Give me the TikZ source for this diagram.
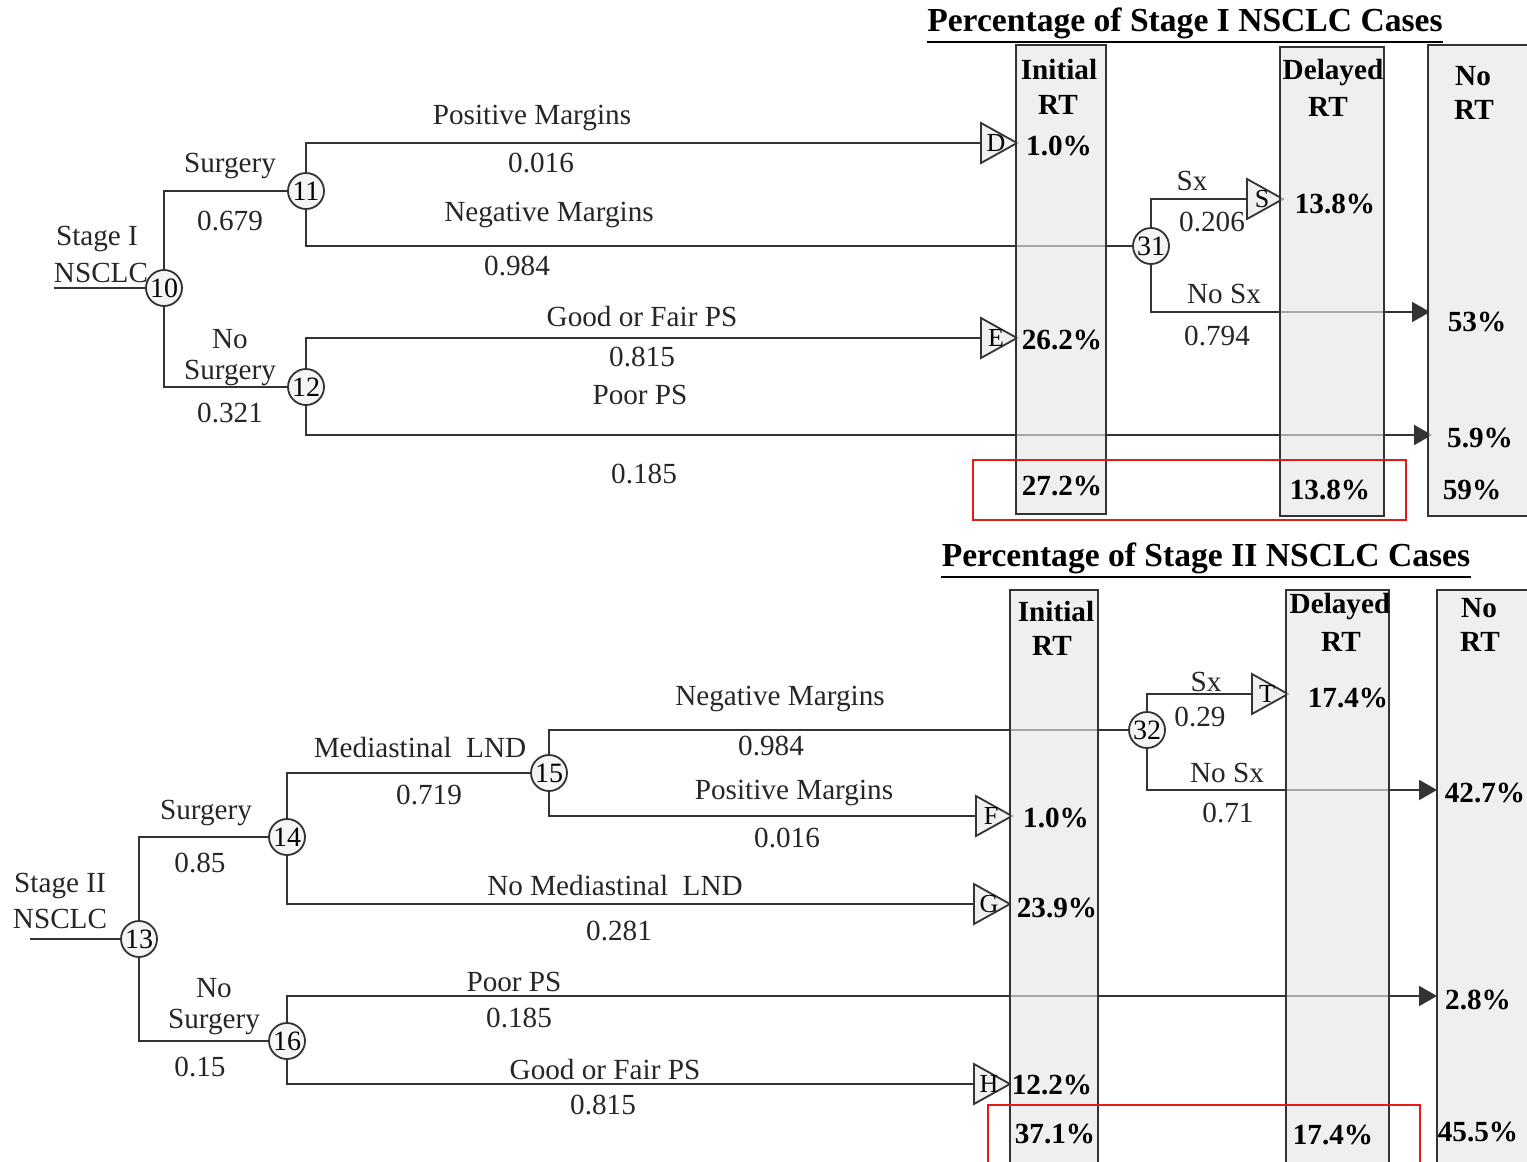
\documentclass[tikz,border=0pt]{standalone}
\usepackage{fontspec}
\setmainfont{Liberation Serif}
\usetikzlibrary{calc,arrows.meta}
\definecolor{ink}{HTML}{333333}
\definecolor{colfill}{HTML}{E6E6E6}
\definecolor{redbox}{HTML}{E8191B}
\tikzset{
 ln/.style={draw=ink, line width=1pt},
 arr/.style={ln, -{Triangle[length=9pt,width=10pt]}},
 chance/.style={circle, draw=ink, line width=0.9pt, fill=gray!8, minimum size=18pt, inner sep=0pt, font=\fontsize{14}{14}\selectfont},
 lbl/.style={inner sep=0pt, font=\fontsize{14.6}{17}\selectfont, text=black!85},
 pct/.style={inner sep=0pt, font=\fontsize{14.6}{17}\selectfont\bfseries},
 colbox/.style={draw=ink, line width=1pt, fill=colfill, fill opacity=0.65},
 ttl/.style={inner sep=0pt, font=\fontsize{16.8}{20}\selectfont\bfseries},
 tristy/.style={draw=ink, line width=0.9pt, fill=gray!12},
 trilbl/.style={inner sep=0pt, font=\fontsize{13}{13}\selectfont},
 hl/.style={draw=redbox, line width=1pt},
}
\newcommand{\termnode}[4]{%
 \coordinate (#1) at (#2,#3);
 \draw[tristy] (#1) -- ++(-36,-20) -- ++(0,40) -- cycle;
 \node[trilbl] (#1l) at ($(#1)+(-21,0)$) {#4};
 \coordinate (#1b) at ($(#1)+(-36,0)$);
}
\begin{document}
\begin{tikzpicture}[x=0.5pt,y=-0.5pt]
\useasboundingbox (0,0) rectangle (1527,1162);
\clip (0,0) rectangle (1527,1162);

% ================= TOP TREE =================
\node[chance] (c10) at (164,288) {10};
\node[chance] (c11) at (306,191) {11};
\node[chance] (c12) at (306,387) {12};
\node[chance] (c31) at (1151,246) {31};
\coordinate (r1) at (54,288);
\termnode{D}{1017}{143}{D}
\termnode{E}{1017}{338}{E}
\termnode{S}{1283}{199}{S}
\coordinate (e53) at (1430,312);
\coordinate (e59) at (1432,435);

\draw[ln] (r1) -- (c10);
\draw[ln] (c10) |- (c11);
\draw[ln] (c10) |- (c12);
\draw[ln] (c11) |- (Db);
\draw[ln] (c11) |- (c31);
\draw[ln] (c31) |- (Sb);
\draw[arr] (c31) |- (e53);
\draw[ln] (c12) |- (Eb);
\draw[arr] (c12) |- (e59);

\node[lbl] (tS1) at (97,239) {Stage I};
\node[lbl] (tN1) at (101,273) {NSCLC};
\node[lbl] (tsurg1) at (230,166) {Surgery};
\node[lbl] (p679) at (230,221) {0.679};
\node[lbl] (tno1) at (230,339) {No};
\node[lbl] (tnos1) at (230,373) {Surgery};
\node[lbl] (p321) at (230,413) {0.321};
\node[lbl] (tpm1) at (532,118) {Positive Margins};
\node[lbl] (p016a) at (541,163) {0.016};
\node[lbl] (tnm1) at (549,215) {Negative Margins};
\node[lbl] (p984a) at (517,266) {0.984};
\node[lbl] (tgf1) at (642,317) {Good or Fair PS};
\node[lbl] (p815a) at (642,357) {0.815};
\node[lbl] (tpp1) at (640,395) {Poor PS};
\node[lbl] (p185a) at (644,474) {0.185};
\node[lbl] (tsx1) at (1192,181) {Sx};
\node[lbl] (p206) at (1212,222) {0.206};
\node[lbl] (tnsx1) at (1224,294) {No Sx};
\node[lbl] (p794) at (1217,336) {0.794};

% columns top
\draw[colbox] (1016,45) rectangle (1106,514);
\draw[colbox] (1280,47) rectangle (1384,516);
\draw[colbox] (1428,45) rectangle (1540,516);

\node[ttl] (title1) at (1185,23) {Percentage of Stage I NSCLC Cases};
\draw[draw=black, line width=1.4pt] ($(title1.south west)+(0,3)$) -- ($(title1.south east)+(0,3)$);

\node[pct] at (1059,70) {Initial};
\node[pct] at (1058,105) {RT};
\node[pct] at (1059,146) {1.0\%};
\node[pct] at (1062,340) {26.2\%};
\node[pct] at (1062,486) {27.2\%};
\node[pct] at (1333,73) {Delayed};
\node[pct] at (1328,107) {RT};
\node[pct] at (1335,204) {13.8\%};
\node[pct] at (1330,490) {13.8\%};
\node[pct] at (1473,76) {No};
\node[pct] at (1474,110) {RT};
\node[pct] at (1477,322) {53\%};
\node[pct] at (1480,438) {5.9\%};
\node[pct] at (1472,490) {59\%};

\draw[hl] (973,460) rectangle (1406,520);

% ================= BOTTOM TREE =================
\node[chance] (c13) at (139,939) {13};
\node[chance] (c14) at (287,837) {14};
\node[chance] (c15) at (549,773) {15};
\node[chance] (c16) at (287,1041) {16};
\node[chance] (c32) at (1147,730) {32};
\coordinate (r2) at (30,939);
\termnode{F}{1012}{816}{F}
\termnode{G}{1010}{904}{G}
\termnode{H}{1010}{1084}{H}
\termnode{T}{1288}{694}{T}
\coordinate (e427) at (1437,790);
\coordinate (e28) at (1437,996);

\draw[ln] (r2) -- (c13);
\draw[ln] (c13) |- (c14);
\draw[ln] (c13) |- (c16);
\draw[ln] (c14) |- (c15);
\draw[ln] (c14) |- (Gb);
\draw[ln] (c15) |- (c32);
\draw[ln] (c15) |- (Fb);
\draw[ln] (c32) |- (Tb);
\draw[arr] (c32) |- (e427);
\draw[arr] (c16) |- (e28);
\draw[ln] (c16) |- (Hb);

\node[lbl] (tS2) at (60,886) {Stage II};
\node[lbl] (tN2) at (60,919) {NSCLC};
\node[lbl] (tsurg2) at (206,813) {Surgery};
\node[lbl] (p85) at (200,863) {0.85};
\node[lbl] (tno2) at (214,988) {No};
\node[lbl] (tnos2) at (214,1022) {Surgery};
\node[lbl] (p15) at (200,1067) {0.15};
\node[lbl] (tml) at (420,748) {Mediastinal\ \ LND};
\node[lbl] (p719) at (429,795) {0.719};
\node[lbl] (tnml) at (615,886) {No Mediastinal\ \ LND};
\node[lbl] (p281) at (619,931) {0.281};
\node[lbl] (tnm2) at (780,699) {Negative Margins};
\node[lbl] (p984b) at (771,746) {0.984};
\node[lbl] (tpm2) at (794,793) {Positive Margins};
\node[lbl] (p016b) at (787,838) {0.016};
\node[lbl] (tpp2) at (514,982) {Poor PS};
\node[lbl] (p185b) at (519,1018) {0.185};
\node[lbl] (tgf2) at (605,1070) {Good or Fair PS};
\node[lbl] (p815b) at (603,1105) {0.815};
\node[lbl] (tsx2) at (1206,682) {Sx};
\node[lbl] (p29) at (1200,717) {0.29};
\node[lbl] (tnsx2) at (1227,773) {No Sx};
\node[lbl] (p71) at (1228,813) {0.71};

% columns bottom
\draw[colbox] (1010,590) rectangle (1098,1175);
\draw[colbox] (1286,590) rectangle (1389,1175);
\draw[colbox] (1437,590) rectangle (1540,1175);

\node[ttl] (title2) at (1206,558) {Percentage of Stage II NSCLC Cases};
\draw[draw=black, line width=1.4pt] ($(title2.south west)+(0,3)$) -- ($(title2.south east)+(0,3)$);

\node[pct] at (1056,612) {Initial};
\node[pct] at (1052,646) {RT};
\node[pct] at (1056,818) {1.0\%};
\node[pct] at (1057,908) {23.9\%};
\node[pct] at (1052,1085) {12.2\%};
\node[pct] at (1055,1134) {37.1\%};
\node[pct] at (1340,607) {Delayed};
\node[pct] at (1341,642) {RT};
\node[pct] at (1348,698) {17.4\%};
\node[pct] at (1333,1135) {17.4\%};
\node[pct] at (1479,608) {No};
\node[pct] at (1480,642) {RT};
\node[pct] at (1485,793) {42.7\%};
\node[pct] at (1478,1000) {2.8\%};
\node[pct] at (1478,1132) {45.5\%};

\draw[hl] (988,1105) rectangle (1420,1175);
\end{tikzpicture}
\end{document}
